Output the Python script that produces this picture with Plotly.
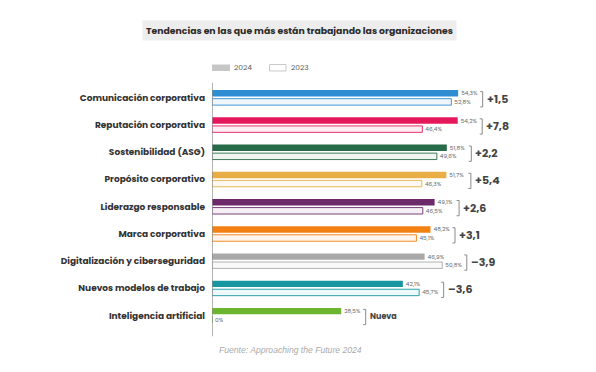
import plotly.graph_objects as go

categories = ["Comunicación corporativa", "Reputación corporativa", "Sostenibilidad (ASG)",
              "Propósito corporativo", "Liderazgo responsable", "Marca corporativa",
              "Digitalización y ciberseguridad", "Nuevos modelos de trabajo", "Inteligencia artificial"]
values_2024 = [54.3, 54.2, 51.8, 51.7, 49.1, 48.2, 46.9, 42.1, 28.5]
values_2023 = [52.8, 46.4, 49.6, 46.3, 46.5, 45.1, 50.8, 45.7, 0]
deltas = ["+1,5", "+7,8", "+2,2", "+5,4", "+2,6", "+3,1", "–3,9", "–3,6", "Nueva"]
colors = ["#2f8dd3", "#e5185c", "#276b48", "#e8ae45", "#6c2a6b", "#f28012", "#a9a9a9", "#1997a1", "#6cb52f"]

# page body has an 8px margin; compensate
OFF = 8
W, H = 596 - OFF, 372 - OFF
L, T, PW = 212 - OFF, 84 - OFF, 340
PH = 245.25
XMAX = 75
FONT = "Poppins, Inter, sans-serif"

def hex_rgba(h, a):
    h = h.lstrip("#")
    return "rgba(%d,%d,%d,%.2f)" % (int(h[0:2], 16), int(h[2:4], 16), int(h[4:6], 16), a)

def fmt(v):
    if v == 0:
        return "0%"
    return ("%.1f" % v).replace(".", ",") + "%"

ypos = list(range(len(categories)))

fig = go.Figure()
fig.add_trace(go.Bar(
    y=ypos, x=values_2024, orientation="h", name="2024",
    marker=dict(color=colors, line=dict(width=0)),
    text=[fmt(v) for v in values_2024], textposition="outside", constraintext="none",
    textfont=dict(size=5.8, color="#666666", family=FONT), cliponaxis=False,
))
fig.add_trace(go.Bar(
    y=ypos, x=values_2023, orientation="h", name="2023",
    marker=dict(color=[hex_rgba(c, 0.07) for c in colors],
                line=dict(color=colors, width=0.9)),
    text=[fmt(v) for v in values_2023], textposition="outside", constraintext="none",
    textfont=dict(size=5.8, color="#666666", family=FONT), cliponaxis=False,
))

shapes = []
annotations = []
px_per_unit = PW / XMAX
for i, (a, b, d) in enumerate(zip(values_2024, values_2023, deltas)):
    bx = max(a, b) + 24.5 / px_per_unit
    tick = 2.5 / px_per_unit
    yc = i + 0.06
    h = 0.28
    for (x0, y0, x1, y1) in [(bx, yc - h, bx, yc + h), (bx - tick, yc - h, bx, yc - h),
                             (bx - tick, yc + h, bx, yc + h)]:
        shapes.append(dict(type="line", xref="x", yref="y", x0=x0, y0=y0, x1=x1, y1=y1,
                           line=dict(color="#8a8a8a", width=1)))
    annotations.append(dict(x=bx, y=yc - 0.02, xref="x", yref="y", text="<b>%s</b>" % d,
                            showarrow=False, xanchor="left", yanchor="middle", xshift=2,
                            font=dict(size=11 if d != "Nueva" else 8, color="#444444", family=FONT)))

# vertical axis line
shapes.append(dict(type="line", xref="x", yref="paper", x0=0, x1=0, y0=-0.03, y1=1.005,
                   line=dict(color="#8a8a8a", width=1.3)))

# convert reference-image pixel coordinates to paper coordinates
def px2paper_x(px):
    return (px - OFF - L) / PW

def px2paper_y(py):
    return (T + PH - (py - OFF)) / PH

# legend
shapes.append(dict(type="rect", xref="paper", yref="paper",
                   x0=px2paper_x(212), x1=px2paper_x(230), y0=px2paper_y(71), y1=px2paper_y(64.5),
                   fillcolor="#c6c6c6", line=dict(width=0)))
shapes.append(dict(type="rect", xref="paper", yref="paper",
                   x0=px2paper_x(269.5), x1=px2paper_x(286), y0=px2paper_y(71), y1=px2paper_y(64.5),
                   fillcolor="white", line=dict(color="#bbbbbb", width=0.8)))
annotations.append(dict(x=px2paper_x(232), y=px2paper_y(67.8), xref="paper", yref="paper",
                        text="2024", showarrow=False, xanchor="left", yanchor="middle",
                        font=dict(size=7.5, color="#555555", family=FONT)))
annotations.append(dict(x=px2paper_x(289), y=px2paper_y(67.8), xref="paper", yref="paper",
                        text="2023", showarrow=False, xanchor="left", yanchor="middle",
                        font=dict(size=7.5, color="#555555", family=FONT)))

# title
annotations.append(dict(x=px2paper_x(299), y=px2paper_y(30), xref="paper", yref="paper",
                        text="<b>Tendencias en las que más están trabajando las organizaciones</b>",
                        showarrow=False, xanchor="center", yanchor="middle",
                        bgcolor="#ededed", borderpad=3,
                        font=dict(size=9.3, color="#2b2b2b", family=FONT)))
# source
annotations.append(dict(x=px2paper_x(290), y=px2paper_y(350), xref="paper", yref="paper",
                        text="<i>Fuente: Approaching the Future 2024</i>",
                        showarrow=False, xanchor="center", yanchor="middle",
                        font=dict(size=8.6, color="#aaaaaa", family="Liberation Sans, Arial, sans-serif")))

fig.update_layout(
    width=W, height=H,
    margin=dict(l=L, r=W - L - PW, t=T, b=H - T - PH),
    paper_bgcolor="white", plot_bgcolor="white",
    barmode="group", bargap=0.37, bargroupgap=0.25,
    showlegend=False,
    xaxis=dict(range=[0, XMAX], visible=False),
    yaxis=dict(range=[len(categories) - 0.5, -0.5], tickvals=ypos,
               ticktext=["<b>%s</b>" % c for c in categories],
               showline=False, showgrid=False, zeroline=False, ticks="", ticklabelstandoff=6,
               tickfont=dict(size=9, color="#333333", family=FONT)),
    shapes=shapes, annotations=annotations,
)

fig.write_html("out.html")
